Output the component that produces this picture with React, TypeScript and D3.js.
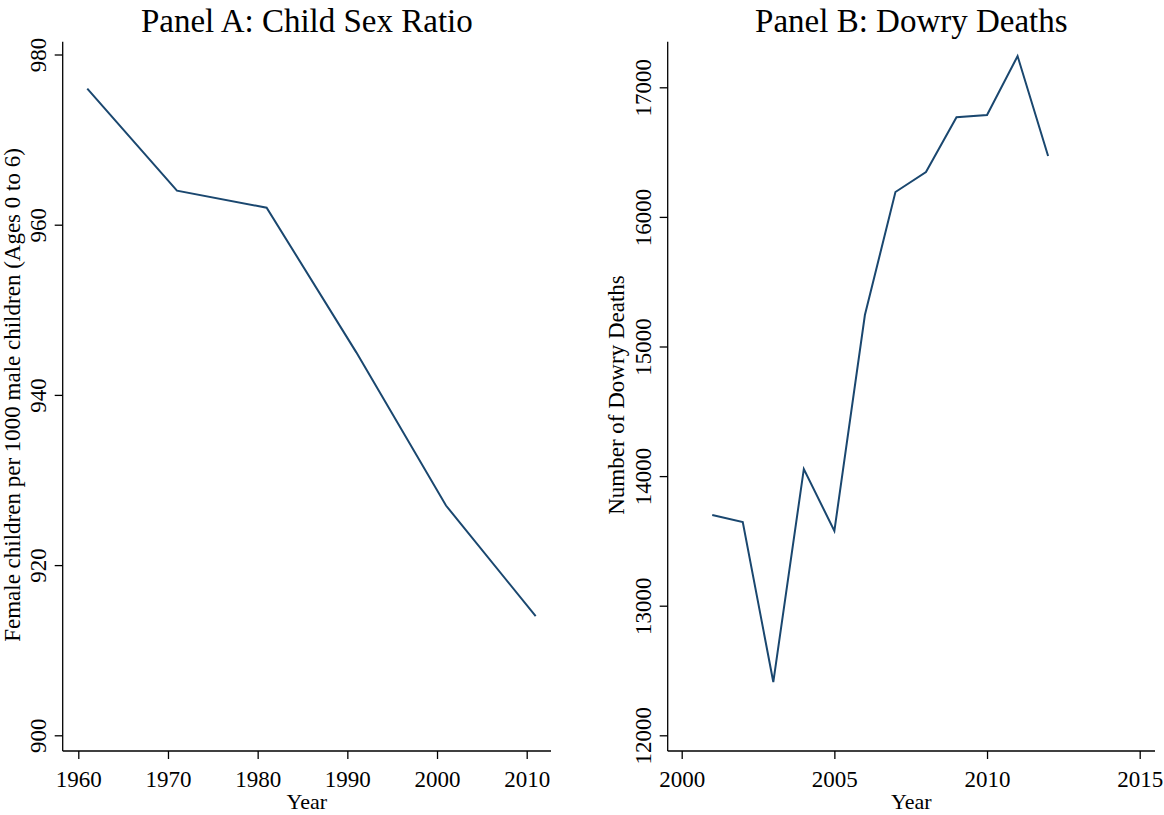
import { useEffect, useRef } from 'react';
import * as d3 from 'd3';

// Panel A: census child sex ratio
const censusYears = [1961, 1971, 1981, 1991, 2001, 2011];
const childSexRatio = [976, 964, 962, 945, 927, 914];
const yearTicksA = [1960, 1970, 1980, 1990, 2000, 2010];
const ratioTicks = [900, 920, 940, 960, 980];

// Panel B: dowry deaths per year
const dowryYears = [2001, 2002, 2003, 2004, 2005, 2006, 2007, 2008, 2009, 2010, 2011, 2012];
const dowryDeaths = [13700, 13646, 12411, 14055, 13577, 15243, 16192, 16346, 16769, 16786, 17241, 16470];
const yearTicksB = [2000, 2005, 2010, 2015];
const deathTicks = [12000, 13000, 14000, 15000, 16000, 17000];

const WIDTH = 1164;
const HEIGHT = 815;
const FONT = '"Liberation Serif", "Times New Roman", serif';
const LINE_COLOR = '#1a476f';

type Panel = {
    title: string;
    yTitle: string;
    xs: number[];
    ys: number[];
    xTicks: number[];
    yTicks: number[];
    xDomain: [number, number];
    xRange: [number, number];
    yDomain: [number, number];
    yRange: [number, number];
    left: number;
    right: number;
    yTitleX: number;
};

const panels: Panel[] = [
    {
        title: 'Panel A: Child Sex Ratio',
        yTitle: 'Female children per 1000 male children (Ages 0 to 6)',
        xs: censusYears,
        ys: childSexRatio,
        xTicks: yearTicksA,
        yTicks: ratioTicks,
        xDomain: [1960, 2010],
        xRange: [78.3, 526.7],
        yDomain: [900, 980],
        yRange: [735.3, 54.5],
        left: 62.7,
        right: 551,
        yTitleX: 20,
    },
    {
        title: 'Panel B: Dowry Deaths',
        yTitle: 'Number of Dowry Deaths',
        xs: dowryYears,
        ys: dowryDeaths,
        xTicks: yearTicksB,
        yTicks: deathTicks,
        xDomain: [2000, 2015],
        xRange: [681.7, 1139.7],
        yDomain: [12000, 17000],
        yRange: [735.3, 87.3],
        left: 667.7,
        right: 1155,
        yTitleX: 624,
    },
];

const TOP = 41.7;
const BOTTOM = 751;

const App = () => {
    const svgRef = useRef<SVGSVGElement | null>(null);

    useEffect(() => {
        if (!svgRef.current) return;
        const svg = d3.select(svgRef.current);
        svg.selectAll('*').remove();

        svg.append('rect').attr('width', WIDTH).attr('height', HEIGHT).attr('fill', '#fff');

        panels.forEach((p) => {
            const x = d3.scaleLinear().domain(p.xDomain).range(p.xRange);
            const y = d3.scaleLinear().domain(p.yDomain).range(p.yRange);
            const cx = (p.left + p.right) / 2;
            const g = svg.append('g').attr('font-family', FONT);

            // title
            g.append('text')
                .attr('x', cx)
                .attr('y', 32)
                .attr('text-anchor', 'middle')
                .attr('font-size', 33)
                .attr('fill', '#000')
                .text(p.title);

            // data line
            const line = d3
                .line<number>()
                .x((_, i) => x(p.xs[i]))
                .y((d) => y(d));
            g.append('path')
                .datum(p.ys)
                .attr('fill', 'none')
                .attr('stroke', LINE_COLOR)
                .attr('stroke-width', 2)
                .attr('stroke-linejoin', 'miter')
                .attr('d', line);

            // x axis
            const xAxis = g
                .append('g')
                .attr('transform', `translate(0,${BOTTOM})`)
                .call(d3.axisBottom(x).tickValues(p.xTicks).tickFormat(d3.format('d')).tickSize(8).tickSizeOuter(0));
            xAxis.select('.domain').remove();
            xAxis
                .append('line')
                .attr('x1', p.left)
                .attr('x2', p.right)
                .attr('stroke', '#000')
                .attr('stroke-width', 1.3);
            xAxis.selectAll('.tick line').attr('stroke', '#000').attr('stroke-width', 1.3);
            xAxis
                .selectAll('.tick text')
                .attr('y', 36)
                .attr('dy', 0)
                .attr('fill', '#000')
                .attr('font-size', 23)
                .attr('font-family', FONT);

            // y axis
            const yAxis = g
                .append('g')
                .attr('transform', `translate(${p.left},0)`)
                .call(d3.axisLeft(y).tickValues(p.yTicks).tickFormat(d3.format('d')).tickSize(8).tickSizeOuter(0));
            yAxis.select('.domain').remove();
            yAxis
                .append('line')
                .attr('y1', TOP)
                .attr('y2', BOTTOM)
                .attr('stroke', '#000')
                .attr('stroke-width', 1.3);
            yAxis.selectAll('.tick line').attr('stroke', '#000').attr('stroke-width', 1.3);
            yAxis
                .selectAll('.tick text')
                .attr('transform', 'rotate(-90)')
                .attr('text-anchor', 'middle')
                .attr('x', 0)
                .attr('y', -17)
                .attr('dy', 0)
                .attr('fill', '#000')
                .attr('font-size', 23)
                .attr('font-family', FONT);

            // axis titles
            g.append('text')
                .attr('x', cx)
                .attr('y', 809)
                .attr('text-anchor', 'middle')
                .attr('font-size', 22)
                .text('Year');
            g.append('text')
                .attr('transform', `translate(${p.yTitleX},395) rotate(-90)`)
                .attr('text-anchor', 'middle')
                .attr('font-size', 23)
                .text(p.yTitle);
        });
    }, []);

    return (
        <svg
            ref={svgRef}
            width={WIDTH}
            height={HEIGHT}
            style={{ position: 'absolute', left: 0, top: 0 }}
        />
    );
};

export default App;
